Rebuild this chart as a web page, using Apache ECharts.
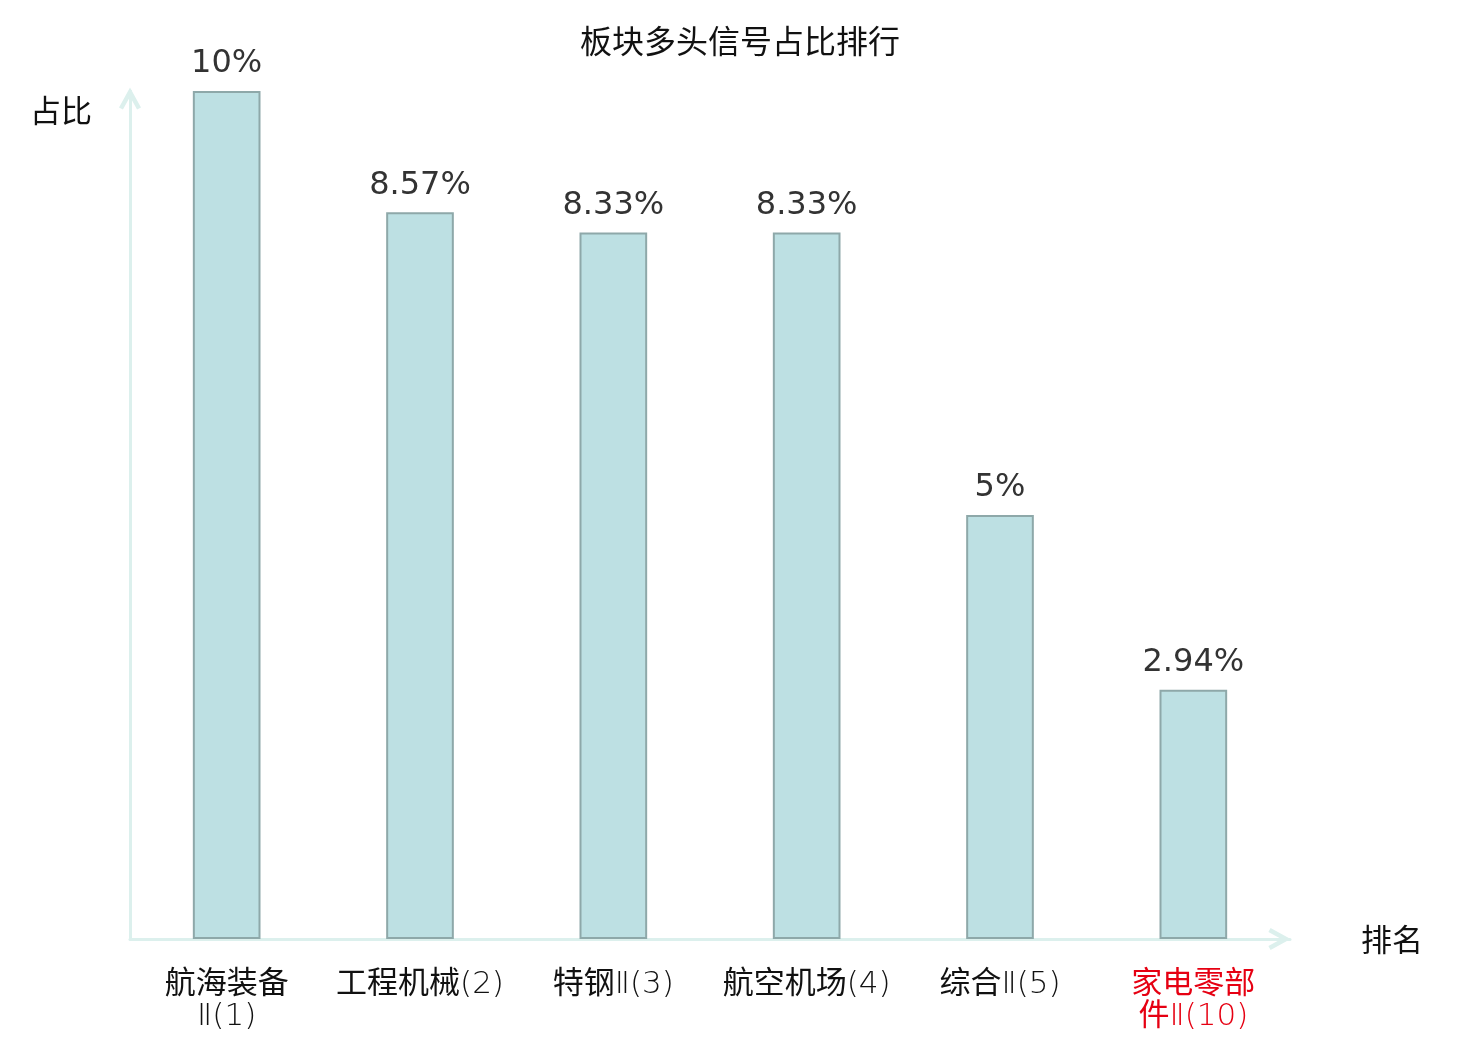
<!DOCTYPE html>
<html>
<head>
<meta charset="utf-8">
<title>板块多头信号占比排行</title>
<script src="https://cdn.jsdelivr.net/npm/echarts@6/dist/echarts.min.js"></script>
<style>
  html, body { margin: 0; padding: 0; background: #fff; }
  #main { width: 1480px; height: 1040px; }
</style>
</head>
<body>
<div id="main"></div>
<script>
// 板块名称(排名)
var categories = ['航海装备Ⅱ(1)', '工程机械(2)', '特钢Ⅱ(3)', '航空机场(4)', '综合Ⅱ(5)', '家电零部件Ⅱ(10)'];
// 多头信号占比(%)
var values = [10, 8.57, 8.33, 8.33, 5, 2.94];
// 标红的板块
var highlightName = '家电零部件Ⅱ(10)';

var cjk = '"Noto Sans CJK SC", sans-serif';
var axisColor = '#dcf0ed';
// 开口箭头
var chevron = 'path://M11,0 L22,20 L18.05,22.17 L11,9.3 L3.95,22.17 L0,20 Z';

var myChart = echarts.init(document.getElementById('main'));

var option = {
  backgroundColor: '#fff',
  title: {
    text: '板块多头信号占比排行',
    left: 'center',
    top: 20,
    textStyle: { fontFamily: cjk, fontSize: 32, fontWeight: 'normal', color: '#111' }
  },
  grid: { left: 130, right: 190, top: 91, bottom: 101, containLabel: false },
  xAxis: {
    type: 'category',
    data: categories,
    name: '排名',
    nameLocation: 'end',
    nameGap: 71,
    nameTextStyle: { fontFamily: cjk, fontSize: 31, color: '#111', verticalAlign: 'middle', padding: [4, 0, 0, 0] },
    axisTick: { show: false },
    axisLine: {
      show: true,
      symbol: ['none', chevron],
      symbolSize: [22, 22.17],
      symbolOffset: [0, -10.5],
      lineStyle: { color: axisColor, width: 3 }
    },
    axisLabel: {
      interval: 0,
      margin: 30,
      fontFamily: '"DejaVu Sans Light", "DejaVu Sans ExtraLight", "Noto Sans CJK SC", sans-serif',
      fontSize: 31,
      lineHeight: 32,
      color: function (value) {
        return value === highlightName ? '#e60012' : '#111';
      },
      formatter: function (value) {
        // 长名称每4个字换行
        if (value.length > 7) {
          return value.slice(0, 4) + '\n' + value.slice(4);
        }
        return value;
      }
    }
  },
  yAxis: {
    type: 'value',
    min: 0,
    max: 10,
    name: '占比',
    nameLocation: 'end',
    nameGap: -19,
    nameTextStyle: { fontFamily: cjk, fontSize: 31, color: '#111', align: 'right', verticalAlign: 'middle', padding: [0, 38, 0, 0] },
    axisLine: {
      show: true,
      symbol: ['none', chevron],
      symbolSize: [22, 22.17],
      symbolOffset: [0, -7.5],
      lineStyle: { color: axisColor, width: 3 }
    },
    axisTick: { show: false },
    axisLabel: { show: false },
    splitLine: { show: false }
  },
  series: [
    {
      name: '占比',
      type: 'bar',
      data: values,
      barWidth: '35%',
      itemStyle: {
        color: '#bde0e3',
        borderColor: '#8ea8a9',
        borderWidth: 2
      },
      label: {
        show: true,
        position: 'top',
        distance: 11,
        fontFamily: '"DejaVu Sans", sans-serif',
        fontSize: 32,
        color: '#333',
        formatter: function (p) { return p.value + '%'; }
      }
    }
  ]
};

myChart.setOption(option);
window.onresize = myChart.resize;
</script>
</body>
</html>
